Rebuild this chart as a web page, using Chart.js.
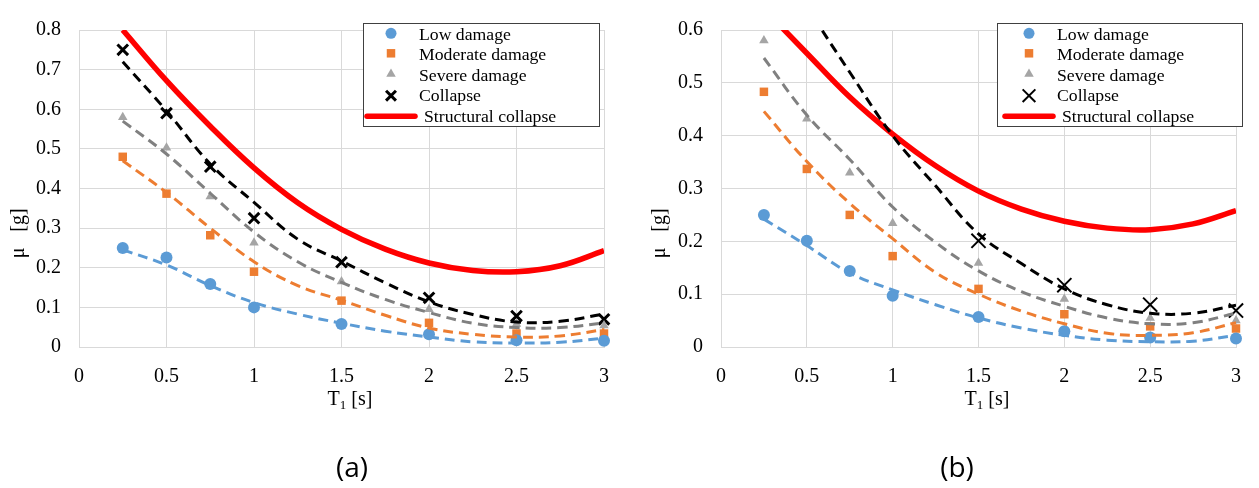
<!DOCTYPE html>
<html>
<head>
<meta charset="utf-8">
<script src="https://cdn.jsdelivr.net/npm/chart.js@4.4.1/dist/chart.umd.min.js"></script>
<style>
  body { margin: 0; background: #fff; width: 1259px; height: 488px; overflow: hidden; position: relative; }
  .wrap { position: absolute; top: 0; height: 488px; }
  #wrapA { left: 0; width: 630px; }
  #wrapB { left: 640px; width: 619px; }
  .cap { position: absolute; top: 446px; width: 80px; text-align: center; font-family: "Open Sans"; font-size: 28px; line-height: 40px; color: #000; }
</style>
</head>
<body>
<div class="wrap" id="wrapA"><canvas id="chart-a" width="630" height="488"></canvas></div>
<div class="wrap" id="wrapB"><canvas id="chart-b" width="619" height="488"></canvas></div>
<div class="cap" style="left:312px">(a)</div>
<div class="cap" style="left:917px">(b)</div>
<script>
// periods of the analysed buildings and of the read-off trend curves
var periods = [0.25, 0.5, 0.75, 1, 1.5, 2, 2.5, 3];
var fitPeriods = [0.25, 0.5, 0.75, 1, 1.25, 1.5, 1.75, 2, 2.25, 2.5, 2.75, 3];

var xTickLabels = ["0", "0.5", "1", "1.5", "2", "2.5", "3"];
var yTickLabelsA = ["0", "0.1", "0.2", "0.3", "0.4", "0.5", "0.6", "0.7", "0.8"];
var yTickLabelsB = ["0", "0.1", "0.2", "0.3", "0.4", "0.5", "0.6"];

var legendLabels = ["Low damage", "Moderate damage", "Severe damage", "Collapse", "Structural collapse"];

// (a)
var lowA = [0.25, 0.226, 0.159, 0.1, 0.058, 0.032, 0.017, 0.016];
var moderateA = [0.48, 0.387, 0.282, 0.19, 0.117, 0.061, 0.034, 0.034];
var severeA = [0.58, 0.503, 0.38, 0.263, 0.165, 0.095, 0.058, 0.054];
var collapseA = [0.75, 0.59, 0.455, 0.325, 0.214, 0.124, 0.078, 0.07];
var lowFitA = [0.245, 0.207, 0.155, 0.112, 0.083, 0.06, 0.04, 0.025, 0.013, 0.01, 0.012, 0.022];
var moderateFitA = [0.47, 0.39, 0.3, 0.215, 0.155, 0.118, 0.08, 0.048, 0.032, 0.025, 0.028, 0.044];
var severeFitA = [0.57, 0.487, 0.388, 0.29, 0.215, 0.163, 0.12, 0.087, 0.06, 0.049, 0.049, 0.061];
var collapseFitA = [0.72, 0.596, 0.462, 0.365, 0.272, 0.217, 0.162, 0.114, 0.082, 0.063, 0.065, 0.083];
var structuralA = [0.8, 0.672, 0.557, 0.452, 0.364, 0.297, 0.247, 0.212, 0.193, 0.19, 0.205, 0.243];

// (b)
var lowB = [0.25, 0.201, 0.144, 0.097, 0.057, 0.03, 0.018, 0.016];
var moderateB = [0.483, 0.337, 0.25, 0.172, 0.11, 0.062, 0.039, 0.035];
var severeB = [0.58, 0.432, 0.33, 0.234, 0.159, 0.091, 0.055, 0.05];
var collapseB = [null, null, null, null, 0.201, 0.117, 0.08, 0.069];
var lowFitB = [0.242, 0.192, 0.14, 0.108, 0.08, 0.055, 0.036, 0.022, 0.013, 0.01, 0.011, 0.022];
var moderateFitB = [0.446, 0.351, 0.272, 0.205, 0.141, 0.1, 0.068, 0.044, 0.026, 0.022, 0.027, 0.046];
var severeFitB = [0.547, 0.439, 0.355, 0.265, 0.198, 0.144, 0.105, 0.077, 0.055, 0.044, 0.046, 0.064];
var collapseFitB = [0.78, 0.645, 0.52, 0.4, 0.305, 0.214, 0.158, 0.11, 0.08, 0.064, 0.064, 0.079];
var structuralB = [0.64, 0.556, 0.473, 0.403, 0.343, 0.295, 0.261, 0.238, 0.225, 0.222, 0.233, 0.258];

var BLUE = "#5b9bd5", ORANGE = "#ed7d31", GRAY = "#a5a5a5", GRAY_LINE = "#808080", RED = "#ff0000";
var SERIF = '"Liberation Serif", "Times New Roman", serif';

function pts(xs, ys) {
  return xs.map(function (x, i) { return { x: x, y: ys[i] }; });
}

// legend, axis titles (with subscript) drawn on top of the plot
var annotate = {
  id: "annotate",
  afterDraw: function (chart, args, o) {
    var ctx = chart.ctx;
    var area = chart.chartArea;
    var lg = o.legend;
    ctx.save();
    ctx.fillStyle = "#fff";
    ctx.fillRect(lg.x, lg.y, lg.w, lg.h);
    ctx.strokeStyle = "#404040";
    ctx.lineWidth = 1;
    ctx.strokeRect(lg.x + 0.5, lg.y + 0.5, lg.w, lg.h);

    var markerY = [33.3, 53.3, 74, 95.7, 116.3];
    var baseY = [39.5, 59.8, 80.5, 101, 121.7];
    o.markers.forEach(function (m, i) {
      ctx.fillStyle = m.color;
      ctx.strokeStyle = m.color;
      ctx.lineWidth = m.bw;
      if (m.line) {
        ctx.lineCap = "round";
        ctx.beginPath();
        ctx.moveTo(lg.x + lg.lineX1, markerY[i]);
        ctx.lineTo(lg.x + lg.lineX2, markerY[i]);
        ctx.stroke();
      } else {
        Chart.helpers.drawPoint(ctx, { pointStyle: m.style, radius: m.r, borderWidth: m.bw, rotation: 0 }, lg.x + lg.markerX, markerY[i]);
      }
      ctx.fillStyle = "#000";
      ctx.font = "17.7px " + SERIF;
      ctx.textBaseline = "alphabetic";
      ctx.textAlign = "left";
      ctx.fillText(legendLabels[i], lg.x + (m.line ? lg.lineTextX : lg.textX), baseY[i]);
    });

    // x title: T1 [s]
    ctx.fillStyle = "#000";
    ctx.font = "20px " + SERIF;
    var wT = ctx.measureText("T").width;
    var wS = ctx.measureText(" [s]").width;
    ctx.font = "13px " + SERIF;
    var w1 = ctx.measureText("1").width;
    var x0 = (area.left + area.right) / 2 + 8.5 - (wT + w1 + wS) / 2;
    ctx.font = "20px " + SERIF;
    ctx.fillText("T", x0, 405);
    ctx.fillText(" [s]", x0 + wT + w1, 405);
    ctx.font = "13px " + SERIF;
    ctx.fillText("1", x0 + wT, 409);

    // y title: mu [g]
    ctx.translate(o.yTitleX, 0);
    ctx.rotate(-Math.PI / 2);
    ctx.font = "20px " + SERIF;
    ctx.textAlign = "center";
    ctx.textBaseline = "middle";
    ctx.fillText("\u03bc", -253, 0);
    ctx.fillText("[g]", -220, 0);
    ctx.restore();
  }
};

function makeChart(id, o) {
  var ctx = document.getElementById(id).getContext("2d");

  var trend = {
    showLine: true,
    pointRadius: 0,
    borderWidth: 3,
    borderDash: [10, 6],
    tension: 0.4,
    clip: 0,
    spanGaps: true,
  };

  new Chart(ctx, {
    type: "scatter",
    data: {
      datasets: [
        { ...trend, data: pts(fitPeriods, o.lowFit), borderColor: BLUE },
        { ...trend, data: pts(fitPeriods, o.moderateFit), borderColor: ORANGE },
        { ...trend, data: pts(fitPeriods, o.severeFit), borderColor: GRAY_LINE },
        { ...trend, data: pts(fitPeriods, o.collapseFit), borderColor: "#000" },
        { label: legendLabels[0], data: pts(periods, o.low), pointStyle: "circle", pointRadius: 6, pointBorderWidth: 0, backgroundColor: BLUE, borderColor: BLUE, clip: false },
        { label: legendLabels[1], data: pts(periods, o.moderate), pointStyle: "rect", pointRadius: 6, pointBorderWidth: 0, backgroundColor: ORANGE, borderColor: ORANGE, clip: false },
        { label: legendLabels[2], data: pts(periods, o.severe), pointStyle: "triangle", pointRadius: 5.5, pointBorderWidth: 0, backgroundColor: GRAY, borderColor: GRAY, clip: false },
        { label: legendLabels[3], data: pts(periods, o.collapse), pointStyle: "crossRot", pointRadius: o.crossR, pointBorderWidth: o.crossW, backgroundColor: "#000", borderColor: "#000", clip: false },
        { label: legendLabels[4], data: pts(fitPeriods, o.structural), showLine: true, pointRadius: 0, borderWidth: 5.5, borderColor: RED, tension: 0.4, clip: 0 },
      ],
    },
    options: {
      responsive: false,
      animation: false,
      events: [],
      layout: { padding: { left: 0, top: o.top, right: o.right, bottom: 0 } },
      plugins: {
        legend: { display: false },
        tooltip: { enabled: false },
        annotate: {
          legend: o.legend,
          yTitleX: o.yTitleX,
          markers: [
            { style: "circle", r: 5.5, bw: 0, color: BLUE },
            { style: "rect", r: 6, bw: 0, color: ORANGE },
            { style: "triangle", r: 5.5, bw: 0, color: GRAY },
            { style: "crossRot", r: o.crossLegendR, bw: o.crossW, color: "#000" },
            { line: true, bw: 5.5, color: RED },
          ],
        },
      },
      scales: {
        x: {
          type: "linear",
          min: 0,
          max: 3,
          afterFit: function (s) { s.height = 488 - 347; },
          grid: { color: "#d9d9d9", drawTicks: false },
          border: { color: "#d9d9d9" },
          ticks: {
            stepSize: 0.5,
            padding: 18,
            color: "#000",
            font: { family: SERIF, size: 20 },
            callback: function (value, index) { return xTickLabels[index]; },
          },
        },
        y: {
          type: "linear",
          min: 0,
          max: o.yMax,
          afterFit: function (s) { s.width = o.yWidth; },
          grid: { color: "#d9d9d9", drawTicks: false },
          border: { color: "#d9d9d9" },
          ticks: {
            stepSize: 0.1,
            padding: 18,
            color: "#000",
            font: { family: SERIF, size: 20 },
            callback: function (value, index) { return o.yLabels[index]; },
          },
        },
      },
    },
    plugins: [annotate],
  });
}

document.addEventListener("DOMContentLoaded", function () {
  makeChart("chart-a", {
    low: lowA, moderate: moderateA, severe: severeA, collapse: collapseA,
    lowFit: lowFitA, moderateFit: moderateFitA, severeFit: severeFitA, collapseFit: collapseFitA,
    structural: structuralA,
    yMax: 0.8, yLabels: yTickLabelsA,
    top: 18, right: 26, yWidth: 79, yTitleX: 19,
    crossR: 7.5, crossW: 3, crossLegendR: 7,
    legend: { x: 363, y: 23, w: 236, h: 103, markerX: 28, textX: 56, lineX1: 4, lineX2: 52, lineTextX: 61 },
  });
  makeChart("chart-b", {
    low: lowB, moderate: moderateB, severe: severeB, collapse: collapseB,
    lowFit: lowFitB, moderateFit: moderateFitB, severeFit: severeFitB, collapseFit: collapseFitB,
    structural: structuralB,
    yMax: 0.6, yLabels: yTickLabelsB,
    top: 19, right: 13, yWidth: 81, yTitleX: 20,
    crossR: 10, crossW: 2, crossLegendR: 9,
    legend: { x: 357, y: 23, w: 245, h: 103, markerX: 32, textX: 60, lineX1: 8, lineX2: 56, lineTextX: 65 },
  });
});
</script>
</body>
</html>
